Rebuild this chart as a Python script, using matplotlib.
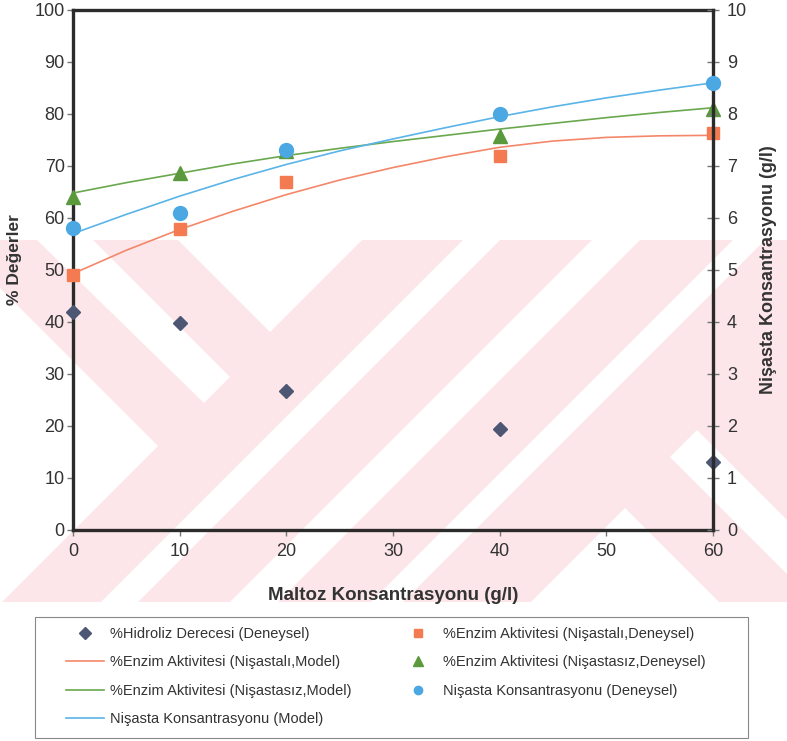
import matplotlib
matplotlib.use('Agg')
import matplotlib.pyplot as plt
from matplotlib.patches import Polygon, Rectangle
from matplotlib.lines import Line2D

plt.rcParams['font.family'] = ['Liberation Sans', 'DejaVu Sans']

# deneysel noktalar
x_exp = [0, 10, 20, 40, 60]
hidroliz = [42, 39.8, 26.8, 19.5, 13]
enzim_nisastali = [49, 57.8, 67, 72, 76.3]
enzim_nisastasiz = [64, 68.7, 72.8, 75.7, 81]
nisasta = [5.8, 6.1, 7.3, 8.0, 8.6]

# model egrileri
x_model = [0, 5, 10, 15, 20, 25, 30, 35, 40, 45, 50, 55, 60]
model_nisastali = [49.3, 53.8, 57.8, 61.3, 64.5, 67.3, 69.7, 71.8, 73.6, 74.8, 75.5, 75.8, 75.9]
model_nisastasiz = [64.8, 66.8, 68.6, 70.4, 72.0, 73.4, 74.7, 75.9, 77.1, 78.2, 79.3, 80.3, 81.2]
model_nisasta = [5.70, 6.07, 6.42, 6.74, 7.03, 7.29, 7.52, 7.74, 7.95, 8.14, 8.31, 8.46, 8.60]

W, H = 787, 741
fig = plt.figure(figsize=(W / 100, H / 100), dpi=100)


def px(pts):
    return [(x / W, 1 - y / H) for x, y in pts]


# arka plandaki pembe filigran
pink = '#fce6ea'
fig.patches.append(Polygon(px([(0, 240), (W, 240), (W, 602), (0, 602)]),
                           closed=True, transform=fig.transFigure,
                           facecolor=pink, edgecolor='none', zorder=-2))
gaps = [
    [(37, 240), (93, 240), (230, 377), (204, 403)],
    [(178, 240), (362, 240), (270, 332)],
    [(0, 288), (158, 446), (0, 604)],
    [(463, 240), (500, 240), (138, 602), (101, 602)],
    [(592, 240), (640, 240), (278, 602), (230, 602)],
    [(733, 240), (765, 240), (403, 602), (371, 602)],
    [(625, 508), (719, 602), (531, 602)],
    [(670, 457), (697, 430), (787, 520), (787, 574)],
]
for g in gaps:
    fig.patches.append(Polygon(px(g), closed=True, transform=fig.transFigure,
                               facecolor='white', edgecolor='none', zorder=-1))

ax = fig.add_axes([73 / W, 1 - 530 / H, 640 / W, 520 / H])
ax.set_facecolor('none')
ax2 = ax.twinx()

c_dia = '#4d5672'
c_or = '#f47a52'
c_gr = '#5b9a3c'
c_bl = '#4ba8e2'
frame = '#2b2b2b'

ax.plot(x_model, model_nisastali, color='#f4876a', lw=1.2, zorder=3)
ax.plot(x_model, model_nisastasiz, color='#6aa84f', lw=1.2, zorder=3)
ax2.plot(x_model, model_nisasta, color='#5ab4e8', lw=1.2, zorder=3)

ax.plot(x_exp, hidroliz, 'D', color=c_dia, ms=7.5, mec=c_dia, clip_on=False, zorder=4)
ax.plot(x_exp, enzim_nisastali, 's', color=c_or, ms=8, mec=c_or, clip_on=False, zorder=4)
ax.plot(x_exp, enzim_nisastasiz, '^', color=c_gr, ms=10, mec=c_gr, clip_on=False, zorder=4)
ax2.plot(x_exp, nisasta, 'o', color=c_bl, ms=10, mec=c_bl, clip_on=False, zorder=5)

ax.set_xlim(0, 60)
ax.set_ylim(0, 100)
ax2.set_ylim(0, 10)
ax.set_xticks(range(0, 61, 10))
ax.set_yticks(range(0, 101, 10))
ax2.set_yticks(range(0, 11, 1))

for s in ['top', 'left', 'bottom']:
    ax.spines[s].set_linewidth(2.4)
    ax.spines[s].set_color(frame)
ax.spines['right'].set_visible(False)
for s in ['top', 'left', 'bottom']:
    ax2.spines[s].set_visible(False)
ax2.spines['right'].set_linewidth(2.4)
ax2.spines['right'].set_color(frame)

ax.tick_params(axis='both', direction='out', length=4, width=1, color='#777777',
               labelsize=13, labelcolor='#333333')
ax.tick_params(axis='x', pad=5)
ax.tick_params(axis='y', pad=2)
ax2.tick_params(axis='y', direction='inout', length=8, width=1, color='#777777',
                labelsize=13, labelcolor='#333333', pad=6)

ax.set_xlabel('Maltoz Konsantrasyonu (g/l)', fontsize=13.5, fontweight='bold', color='#333333')
ax.xaxis.set_label_coords(0.5, -0.11)
ax.set_ylabel('% Değerler', fontsize=12.5, fontweight='bold', color='#333333')
ax.yaxis.set_label_coords(-0.080, 0.52)
ax2.set_ylabel('Nişasta Konsantrasyonu (g/l)', fontsize=13, fontweight='bold', color='#333333')
ax2.yaxis.set_label_coords(1.073, 0.5)

# lejant cercevesi
fig.patches.append(Rectangle((35 / W, 1 - 738 / H), (748 - 35) / W, (738 - 617) / H,
                             transform=fig.transFigure, facecolor='white',
                             edgecolor='#888888', lw=0.8, zorder=1))

handles = [
    Line2D([], [], ls='none', marker='D', color=c_dia, ms=6),
    Line2D([], [], color='#f4876a', lw=1.2),
    Line2D([], [], color='#6aa84f', lw=1.2),
    Line2D([], [], color='#5ab4e8', lw=1.2),
    Line2D([], [], ls='none', marker='s', color=c_or, ms=6),
    Line2D([], [], ls='none', marker='^', color=c_gr, ms=7),
    Line2D([], [], ls='none', marker='o', color=c_bl, ms=6),
]
labels = [
    '%Hidroliz Derecesi (Deneysel)',
    '%Enzim Aktivitesi (Nişastalı,Model)',
    '%Enzim Aktivitesi (Nişastasız,Model)',
    'Nişasta Konsantrasyonu (Model)',
    '%Enzim Aktivitesi (Nişastalı,Deneysel)',
    '%Enzim Aktivitesi (Nişastasız,Deneysel)',
    'Nişasta Konsantrasyonu (Deneysel)',
]
leg = fig.legend(handles, labels, ncol=2, loc='upper left',
                 bbox_to_anchor=(66 / W, 1 - 627 / H), frameon=False,
                 borderpad=0, borderaxespad=0, handlelength=2.6,
                 handletextpad=0.45, labelspacing=0.99, columnspacing=3.2,
                 prop={'size': 10.5})
for t in leg.get_texts():
    t.set_color('#333333')
leg.set_zorder(2)

fig.savefig('out.png', dpi=100)
